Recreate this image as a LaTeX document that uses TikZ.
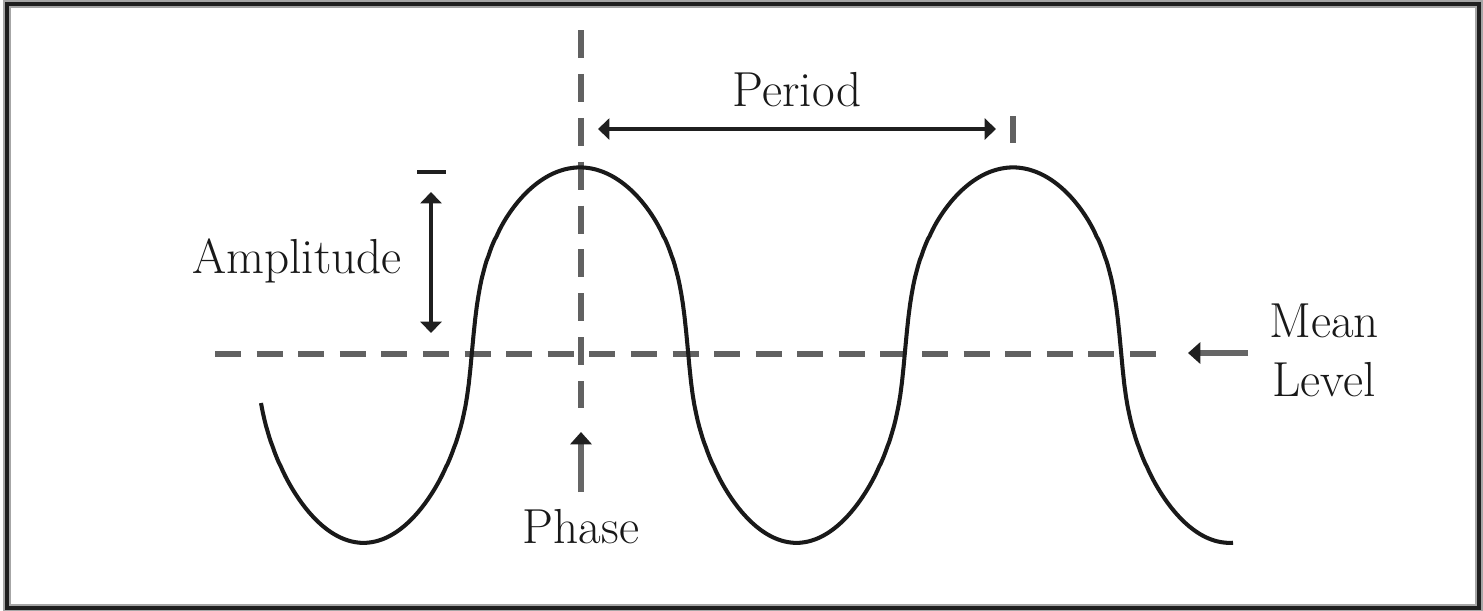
\documentclass[tikz,border=0pt]{standalone}
\usetikzlibrary{arrows.meta}
\begin{document}
\begin{tikzpicture}[x=0.02cm,y=-0.02cm,
  declare function={ph(\t)=(\t-580)/433*360; cc(\t)=cos(ph(\t));
    wy(\t)=(cc(\t)>=0) ? (354-187*cc(\t)*pow(cc(\t)*cc(\t)+0.008,-0.29)) : (354-189*cc(\t)*pow(cc(\t)*cc(\t)+0.0037,-0.25));},
  lbl/.style={font=\fontsize{28}{33}\selectfont, text=black!90, inner sep=0pt, anchor=base},
  dashline/.style={draw=black!62, line width=3.3pt},
  darkline/.style={draw=black!88, line width=2.2pt},
  twohead/.style={darkline, {Triangle[width=12pt,length=6.5pt]}-{Triangle[width=12pt,length=6.5pt]}},
  grayarrow/.style={draw=black!60, line width=3.3pt, -{Triangle[width=12pt,length=7pt,color=black!88]}},
  wave/.style={draw=black!90, line width=2.3pt, line join=round}
]
% canvas and frame
\fill[white] (0,0) rectangle (1483,610);
\useasboundingbox (0,0) rectangle (1483,610);
\draw[black!35, line width=4.5pt] (7,4) rectangle (1479,608);
\draw[black!88, line width=2.4pt] (7,4) rectangle (1479,608);

% coordinates
\coordinate (meanL) at (215,354);
\coordinate (meanR) at (1157,354);
\coordinate (phT) at (581,30);
\coordinate (phB) at (581,408);

% dashed lines
\draw[dashline, dash pattern=on 0.52cm off 0.312cm] (meanL) -- (meanR);
\draw[dashline, dash pattern=on 0.56cm off 0.318cm] (phT) -- (phB);

% wave
\draw[wave] plot[domain=261:1233, samples=600] (\x,{wy(\x)});

% labels
\node[lbl] (period) at (797,106) {Period};
\node[lbl] (amp) at (297,273) {Amplitude};
\node[lbl] (mean) at (1324,337) {Mean};
\node[lbl] (level) at (1324,396) {Level};
\node[lbl] (phase) at (581,543) {Phase};

% period arrow and tick
\coordinate (pA) at (598,129);
\coordinate (pB) at (996,129);
\draw[twohead] (pA) -- (pB);
\coordinate (ptT) at (1013,116);
\coordinate (ptB) at (1013,143);
\draw[dashline] (ptT) -- (ptB);

% amplitude arrow and tick
\coordinate (aT) at (431,192);
\coordinate (aB) at (431,333);
\draw[twohead] (aT) -- (aB);
\coordinate (atL) at (417,172);
\coordinate (atR) at (446,172);
\draw[darkline] (atL) -- (atR);

% phase arrow
\coordinate (phS) at (581,492);
\coordinate (phE) at (581,432);
\draw[grayarrow] (phS) -- (phE);

% mean level arrow
\coordinate (mS) at (1248,353);
\coordinate (mE) at (1188,353);
\draw[grayarrow] (mS) -- (mE);
\end{tikzpicture}
\end{document}
